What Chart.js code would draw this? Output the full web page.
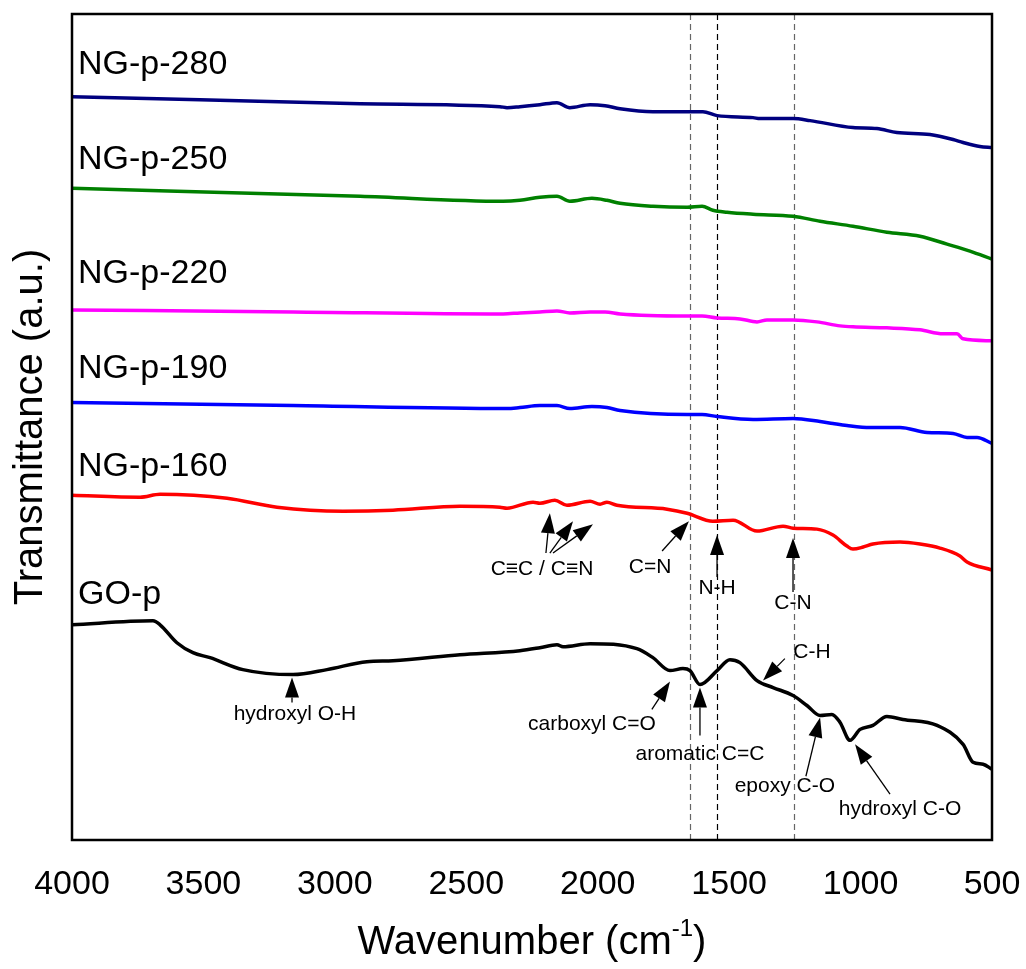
<!DOCTYPE html>
<html>
<head>
<meta charset="utf-8">
<script src="https://cdn.jsdelivr.net/npm/chart.js@4.4.1/dist/chart.umd.min.js"></script>
<style>
  html, body { margin: 0; padding: 0; background: #fff; }
  #wrap { width: 1026px; height: 969px; }
</style>
</head>
<body>
<div id="wrap"><canvas id="c" width="1026" height="969"></canvas></div>
<script>
// FTIR spectra, stacked (transmittance in arbitrary units, offset per sample)
const wn280 = [4000, 3513, 2904, 2372, 2345, 2296, 2220, 2155, 2106, 2029, 1972, 1915, 1790, 1649, 1600, 1546, 1409, 1383, 1257, 1192, 1029, 938, 862, 736, 648, 610, 546, 500];
const t280  = [828, 825, 821, 818, 817, 818, 820, 822, 817, 820, 819, 816, 813, 813, 813, 809, 807, 806, 806, 804, 797, 796, 792, 790, 785, 782, 778, 777];

const wn250 = [4000, 2904, 2360, 2296, 2220, 2155, 2106, 2022, 1965, 1915, 1790, 1660, 1603, 1562, 1508, 1409, 1257, 1154, 1029, 900, 774, 671, 584, 500];
const t250  = [736, 728, 723, 724, 727, 728, 723, 726, 724, 721, 718, 717, 718, 714, 712, 710, 708, 703, 698, 692, 688, 680, 673, 665];

const wn220 = [4000, 3159, 2360, 2296, 2220, 2155, 2106, 2029, 1972, 1915, 1660, 1603, 1546, 1459, 1394, 1356, 1257, 1166, 1078, 1029, 900, 774, 686, 633, 610, 500];
const t220  = [614, 612, 610, 611, 612, 613, 611, 612, 612, 610, 608, 608, 606, 605, 602, 604, 604, 602, 598, 597, 596, 594, 590, 590, 585, 583];

const wn190 = [4000, 3159, 2345, 2296, 2220, 2155, 2106, 2022, 1965, 1915, 1660, 1603, 1546, 1409, 1257, 1154, 1105, 1052, 964, 850, 747, 648, 595, 557, 500];
const t190  = [521, 518, 515, 516, 518, 518, 515, 517, 516, 513, 509, 509, 507, 504, 505, 502, 500, 498, 496, 496, 491, 490, 486, 486, 480];

const wn160 = [4000, 3741, 3665, 3410, 3220, 2969, 2779, 2524, 2372, 2345, 2246, 2220, 2163, 2117, 2029, 1991, 1965, 1927, 1736, 1660, 1562, 1485, 1394, 1295, 1257, 1166, 1105, 1052, 1029, 990, 953, 850, 774, 698, 622, 595, 500];
const t160  = [428, 426, 429, 425, 416, 412, 413, 417, 416, 415, 421, 420, 423, 418, 422, 419, 421, 418, 414, 410, 402, 403, 392, 397, 395, 394, 388, 377, 374, 376, 379, 381, 379, 375, 367, 361, 353];

const wnGO = [4000, 3692, 3665, 3601, 3540, 3475, 3350, 3159, 3030, 2878, 2779, 2524, 2296, 2220, 2155, 2132, 2029, 1851, 1790, 1725, 1676, 1649, 1611, 1546, 1497, 1459, 1394, 1333, 1257, 1204, 1154, 1109, 1078, 1040, 1002, 953, 900, 839, 709, 610, 572, 534, 500];
const tGO  = [298, 302, 298, 280, 270, 265, 253, 248, 253, 261, 262, 268, 272, 275, 278, 276, 279, 274, 265, 252, 254, 252, 238, 252, 263, 260, 242, 235, 227, 217, 207, 208, 200, 182, 193, 197, 206, 203, 197, 178, 160, 158, 153];

const seriesNames = ["NG-p-280", "NG-p-250", "NG-p-220", "NG-p-190", "NG-p-160", "GO-p"];
const seriesColors = ["#00007F", "#008000", "#FF00FF", "#0000FF", "#FF0000", "#000000"];
const xTicks = [4000, 3500, 3000, 2500, 2000, 1500, 1000, 500];
const refLines = [1650, 1545, 1255];

const FONT = '"Liberation Sans", Arial, sans-serif';
const pts = (xs, ys) => xs.map((x, i) => ({ x, y: ys[i] }));
const allX = [wn280, wn250, wn220, wn190, wn160, wnGO];
const allY = [t280, t250, t220, t190, t160, tGO];

// label anchors in data units (wavenumber, a.u.)
const nameAt = [[3977, 860], [3977, 765], [3977, 650], [3977, 555], [3977, 457], [3977, 328]];
// band assignments: text + arrows [tail -> tip]
const bands = [
  { text: "hydroxyl O-H", at: [3152, 208], arrows: [[[3163, 220], [3163, 245]]] },
  { text: "C\u2261C / C\u2261N", at: [2212, 354], arrows: [[[2197, 370], [2182, 410]], [[2182, 370], [2094, 402]], [[2170, 370], [2018, 399]]] },
  { text: "C=N", at: [1801, 356], arrows: [[[1755, 372], [1653, 402]]] },
  { text: "N-H", at: [1546, 335], arrows: [[[1546, 346], [1546, 388]]] },
  { text: "C-N", at: [1257, 320], arrows: [[[1257, 331], [1257, 385]]] },
  { text: "carboxyl C=O", at: [2022, 198], arrows: [[[1794, 213], [1725, 241]]] },
  { text: "aromatic C=C", at: [1611, 168], arrows: [[[1611, 187], [1611, 235]]] },
  { text: "C-H", at: [1185, 270], arrows: [[[1288, 264], [1371, 242]]] },
  { text: "epoxy C-O", at: [1288, 136], arrows: [[[1208, 146], [1154, 205]]] },
  { text: "hydroxyl C-O", at: [850, 113], arrows: [[[888, 128], [1021, 178]]] },
];

function txt(ctx, s, x, y, size, opts = {}) {
  ctx.save();
  ctx.translate(x, y);
  if (opts.rot) ctx.rotate(opts.rot);
  ctx.font = size + "px " + FONT;
  ctx.fillStyle = "#000";
  ctx.textAlign = opts.align || "center";
  ctx.textBaseline = "middle";
  ctx.fillText(s, 0, 0);
  ctx.restore();
}

function arrow(ctx, x0, y0, x1, y1) {
  const a = Math.atan2(y1 - y0, x1 - x0), L = 20, W = 7;
  ctx.save();
  ctx.strokeStyle = "#000"; ctx.fillStyle = "#000"; ctx.lineWidth = 1.3;
  ctx.beginPath(); ctx.moveTo(x0, y0);
  ctx.lineTo(x1 - Math.cos(a) * L, y1 - Math.sin(a) * L); ctx.stroke();
  ctx.beginPath(); ctx.moveTo(x1, y1);
  ctx.lineTo(x1 - Math.cos(a) * L - Math.sin(a) * W, y1 - Math.sin(a) * L + Math.cos(a) * W);
  ctx.lineTo(x1 - Math.cos(a) * L + Math.sin(a) * W, y1 - Math.sin(a) * L - Math.cos(a) * W);
  ctx.closePath(); ctx.fill();
  ctx.restore();
}

const decor = {
  id: "decor",
  beforeDatasetsDraw(chart) {
    const { ctx, chartArea: a, scales: { x } } = chart;
    ctx.save();
    ctx.lineWidth = 1.2; ctx.setLineDash([6, 4]);
    refLines.forEach((w, i) => {
      ctx.strokeStyle = i === 1 ? "#000" : "#666";
      const px = Math.round(x.getPixelForValue(w)) + 0.5;
      ctx.beginPath(); ctx.moveTo(px, a.top); ctx.lineTo(px, a.bottom); ctx.stroke();
    });
    ctx.restore();
  },
  afterDraw(chart) {
    const { ctx, chartArea: a, scales: { x, y } } = chart;
    const P = (p) => [x.getPixelForValue(p[0]), y.getPixelForValue(p[1])];
    // frame
    ctx.save();
    ctx.strokeStyle = "#000"; ctx.lineWidth = 2.5;
    ctx.strokeRect(a.left, a.top, a.right - a.left, a.bottom - a.top);
    ctx.restore();
    // sample names
    seriesNames.forEach((n, i) => {
      const [px, py] = P(nameAt[i]);
      txt(ctx, n, px, py, 34, { align: "left" });
    });
    // band labels
    bands.forEach((b) => {
      const [px, py] = P(b.at);
      txt(ctx, b.text, px, py, 21);
      b.arrows.forEach(([t, h]) => { const p0 = P(t), p1 = P(h); arrow(ctx, p0[0], p0[1], p1[0], p1[1]); });
    });
    // axis titles
    txt(ctx, "Transmittance (a.u.)", 31, (a.top + a.bottom) / 2, 40, { rot: -Math.PI / 2 });
    const main = "Wavenumber (cm", sup = "-1", close = ")";
    ctx.save();
    ctx.font = "40px " + FONT; const w1 = ctx.measureText(main).width, w3 = ctx.measureText(close).width;
    ctx.font = "24px " + FONT; const w2 = ctx.measureText(sup).width;
    ctx.restore();
    const sx = (a.left + a.right) / 2 - (w1 + w2 + w3) / 2, ty = 943;
    txt(ctx, main, sx, ty, 40, { align: "left" });
    txt(ctx, sup, sx + w1, ty - 14, 24, { align: "left" });
    txt(ctx, close, sx + w1 + w2, ty, 40, { align: "left" });
  },
};

new Chart(document.getElementById("c"), {
  type: "line",
  data: {
    datasets: seriesNames.map((n, i) => ({
      label: n,
      data: pts(allX[i], allY[i]),
      borderColor: seriesColors[i],
      borderWidth: 3.5,
      pointRadius: 0,
      fill: false,
      cubicInterpolationMode: "monotone",
    })),
  },
  options: {
    responsive: false,
    animation: false,
    layout: { padding: { left: 0, top: 14, right: 34, bottom: 0 } },
    plugins: { legend: { display: false }, tooltip: { enabled: false } },
    scales: {
      x: {
        type: "linear", reverse: true, min: 500, max: 4000,
        afterFit: (s) => { s.height = 969 - 840; s.paddingLeft = 0; s.paddingRight = 0; },
        afterBuildTicks: (s) => { s.ticks = xTicks.map((v) => ({ value: v })); },
        grid: { display: false, drawTicks: false },
        border: { display: false },
        ticks: { color: "#000", padding: 24, maxRotation: 0, font: { family: FONT, size: 34 }, callback: (v) => String(v) },
      },
      y: {
        type: "linear", min: 82, max: 911,
        afterFit: (s) => { s.width = 72; },
        grid: { display: false, drawTicks: false },
        border: { display: false },
        ticks: { display: false },
      },
    },
  },
  plugins: [decor],
});
</script>
</body>
</html>
